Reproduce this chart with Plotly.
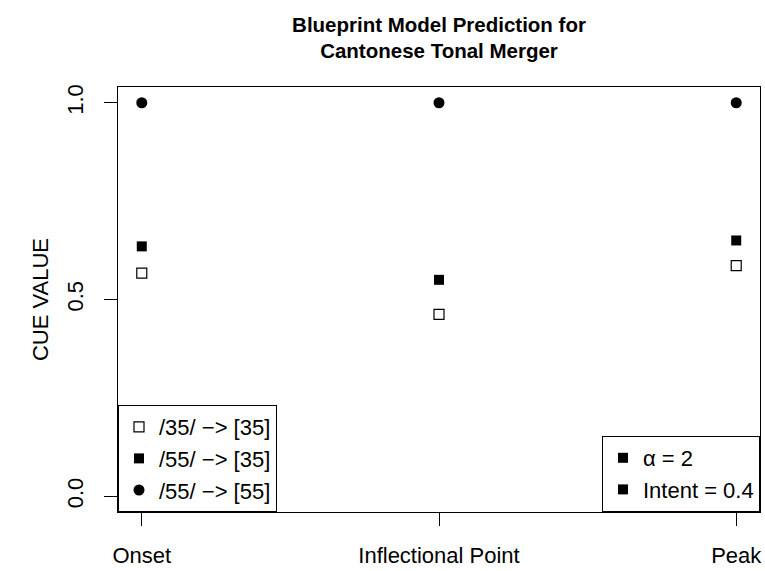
import plotly.graph_objects as go

categories = ["Onset", "Inflectional Point", "Peak"]
cat_pos = [1, 2, 3]
s35_35 = [0.567, 0.462, 0.586]   # /35/ -> [35], open squares
s55_35 = [0.635, 0.550, 0.650]   # /55/ -> [35], filled squares
s55_55 = [1.0, 1.0, 1.0]         # /55/ -> [55], filled circles
y_ticks = [0.0, 0.5, 1.0]
y_ticktext = ["0.0", "0.5", "1.0"]
params = ["α = 2", "Intent = 0.4"]

FONT = "Liberation Sans, Arial, Helvetica, sans-serif"
FS = 22

fig = go.Figure()
fig.add_trace(go.Scatter(x=cat_pos, y=s35_35, mode="markers", name="/35/ −> [35]",
                         marker=dict(symbol="square-open", size=10, color="black",
                                     line=dict(width=1.2, color="black")),
                         legend="legend"))
fig.add_trace(go.Scatter(x=cat_pos, y=s55_35, mode="markers", name="/55/ −> [35]",
                         marker=dict(symbol="square", size=10, color="black"),
                         legend="legend"))
fig.add_trace(go.Scatter(x=cat_pos, y=s55_55, mode="markers", name="/55/ −> [55]",
                         marker=dict(symbol="circle", size=11, color="black"),
                         legend="legend"))
for p in params:
    fig.add_trace(go.Scatter(x=[None], y=[None], mode="markers", name=p,
                             marker=dict(symbol="square", size=10, color="black"),
                             legend="legend2"))

axis_common = dict(showline=True, linecolor="black", linewidth=1, mirror=True,
                   ticks="outside", ticklen=13, tickwidth=1, tickcolor="black",
                   showgrid=False, zeroline=False,
                   tickfont=dict(family=FONT, size=FS, color="black"))

fig.update_layout(
    width=765, height=571,
    margin=dict(l=118, r=3, t=87, b=56),
    paper_bgcolor="white", plot_bgcolor="white",
    font=dict(family=FONT, size=FS, color="black"),
    title=dict(text="<b>Blueprint Model Prediction for<br>Cantonese Tonal Merger</b>",
               x=0.5, xref="paper", xanchor="center",
               y=1 - 31.5 / 571, yref="container", yanchor="middle",
               font=dict(family=FONT, size=20.5, color="black")),
    xaxis=dict(range=[0.92, 3.08], tickvals=cat_pos, ticktext=categories,
               ticklabelstandoff=11, **axis_common),
    yaxis=dict(range=[-0.04, 1.04], tickvals=y_ticks, ticktext=y_ticktext,
               tickangle=-90, ticklabelstandoff=12,
               title=dict(text="CUE VALUE", font=dict(family=FONT, size=FS, color="black"),
                          standoff=8),
               **axis_common),
    legend=dict(x=0, y=0, xref="paper", yref="paper", xanchor="left", yanchor="bottom",
                bordercolor="black", borderwidth=1, bgcolor="white",
                font=dict(family=FONT, size=FS, color="black"),
                itemclick=False, tracegroupgap=0),
    legend2=dict(x=1, y=0, xref="paper", yref="paper", xanchor="right", yanchor="bottom",
                 bordercolor="black", borderwidth=1, bgcolor="white",
                 font=dict(family=FONT, size=FS, color="black"),
                 itemclick=False, tracegroupgap=0),
    showlegend=True,
)

fig.write_html("out.html")
